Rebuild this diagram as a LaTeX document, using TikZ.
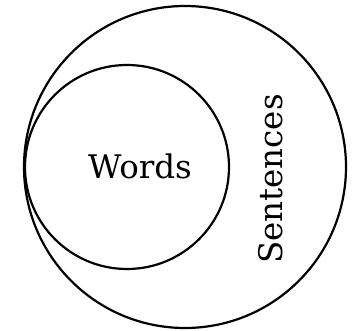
\documentclass[tikz,border=0pt]{standalone}
\usepackage{fontspec}
\setmainfont{DejaVu Serif}
\begin{document}
\begin{tikzpicture}[x=1pt,y=1pt,
  ring/.style={draw=black,line width=2.2pt},
  lbl/.style={inner sep=0pt,text=black}]
\useasboundingbox (0,0) rectangle (354,330);
\node[ring,circle,minimum size=322pt,inner sep=0pt] (sent) at (185,163) {};
\node[ring,circle,minimum size=204pt,inner sep=0pt] (words) at (127,163) {};
\node[lbl,font=\fontsize{32.5}{36}\selectfont] (wl) at (140,164) {Words};
\node[lbl,rotate=90,font=\fontsize{32.5}{36}\selectfont] (sl) at (271,151) {Sentences};
\end{tikzpicture}
\end{document}
